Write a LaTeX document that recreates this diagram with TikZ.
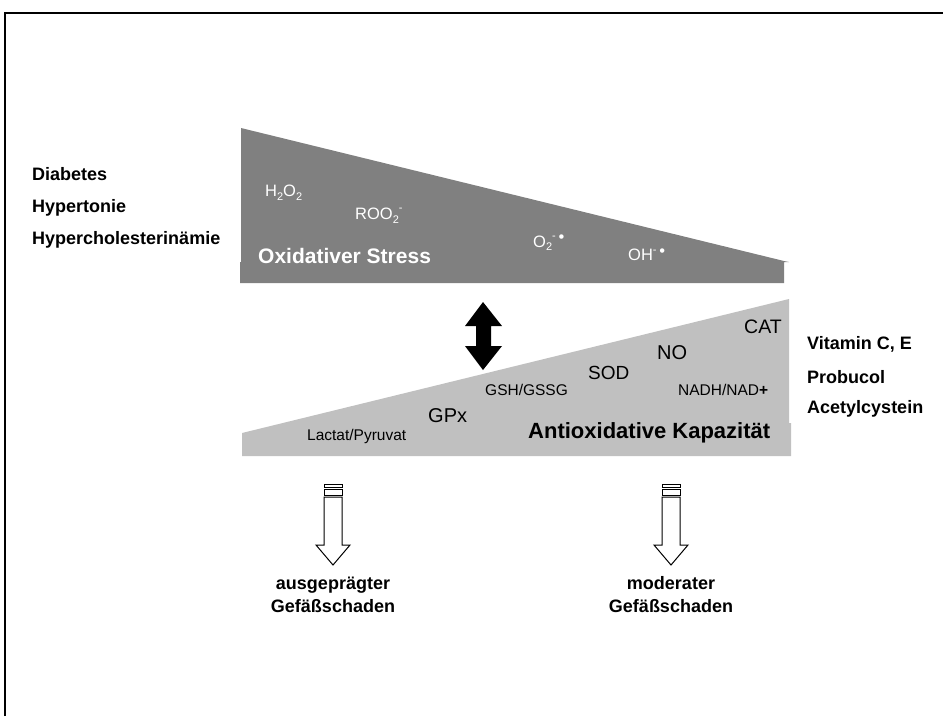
\documentclass[tikz,border=0pt]{standalone}
\usepackage{fontspec}
\setmainfont{Liberation Sans}
\definecolor{darkg}{HTML}{808080}
\definecolor{lightg}{HTML}{C0C0C0}
\newcommand{\mysub}[1]{\raisebox{-0.45ex}{\fontsize{11}{12}\selectfont #1}}
\newcommand{\mysup}[1]{\raisebox{0.9ex}{\fontsize{11}{12}\selectfont #1}}
\begin{document}
\begin{tikzpicture}[x=1pt,y=-1pt,
  sidelab/.style={anchor=west,inner sep=0pt,font=\bfseries\fontsize{18}{20}\selectfont},
  wlab/.style={anchor=west,inner sep=0pt,text=white,font=\fontsize{16.5}{18}\selectfont},
  blab/.style={anchor=west,inner sep=0pt,text=black},
  outcome/.style={align=center,inner sep=0pt,font=\bfseries\fontsize{18}{23}\selectfont},
  downarrow/.style={draw=black,fill=white,line width=1pt}]
\useasboundingbox (0,0) rectangle (943,716);
% frame
\draw[line width=1.6pt] (5,716) -- (5,13) -- (943,13);
% oxidative stress wedge
\fill[darkg] (241,128) -- (784,261) -- (789,262) -- (784,262) -- (784,283) -- (240,283) -- (240,262) -- (241,262) -- cycle;
% antioxidative wedge
\fill[lightg] (242,433) -- (789,299) -- (789,423) -- (791,423) -- (791,456) -- (242,456) -- cycle;
% double arrow
\fill[black] (483,302) -- (502,326) -- (491,326) -- (491,346) -- (502,346) -- (483,370) -- (465,346) -- (476,346) -- (476,326) -- (465,326) -- cycle;
% left labels
\node[sidelab] (diab) at (32,174) {Diabetes};
\node[sidelab] (hyper) at (32,208) {Hypertonie};
\node[sidelab] (chol) at (32,240) {Hypercholesterinämie};
% right labels
\node[sidelab] (vit) at (807,344) {Vitamin C, E};
\node[sidelab] (prob) at (807,377) {Probucol};
\node[sidelab] (acet) at (807,409) {Acetylcystein};
% white labels
\node[wlab] (h2o2) at (265,193) {H\mysub{2}O\mysub{2}};
\node[wlab] (roo) at (355,216) {ROO\mysub{2}\mysup{-}};
\node[wlab,font=\bfseries\fontsize{21}{24}\selectfont] (ox) at (258,256) {Oxidativer Stress};
\node[wlab] (o2) at (533,243) {O\mysub{2}\mysup{-}\,\raisebox{0.5ex}{•}};
\node[wlab] (oh) at (628,255) {OH\mysup{-}\,\raisebox{0.5ex}{•}};
% black labels
\node[blab,font=\fontsize{15.5}{18}\selectfont] (lac) at (307,436) {Lactat/Pyruvat};
\node[blab,font=\fontsize{20}{22}\selectfont] (gpx) at (428,416) {GPx};
\node[blab,font=\fontsize{15.5}{18}\selectfont] (gsh) at (485,390) {GSH/GSSG};
\node[blab,font=\fontsize{19}{22}\selectfont] (sod) at (588,373) {SOD};
\node[blab,font=\fontsize{20}{22}\selectfont] (no) at (657,353) {NO};
\node[blab,font=\fontsize{19.5}{22}\selectfont] (cat) at (744,327) {CAT};
\node[blab,font=\fontsize{15.5}{18}\selectfont] (nadh) at (678,390) {NADH/NAD\textbf{+}};
\node[blab,font=\bfseries\fontsize{22}{25}\selectfont] (antiox) at (528,433) {Antioxidative Kapazität};
% down arrows
\foreach \cx/\nm in {333/la,671/ra}{
  \draw[downarrow] (\cx-9,484) rectangle (\cx+9,487);
  \draw[downarrow] (\cx-9,489) rectangle (\cx+9,495);
  \draw[downarrow] (\cx-9,497) -- (\cx+9,497) -- (\cx+9,545) -- (\cx+17,545) -- (\cx,565) -- (\cx-17,545) -- (\cx-9,545) -- cycle;
}
% outcomes
\node[outcome] (out1) at (333,595) {ausgeprägter\\Gefäßschaden};
\node[outcome] (out2) at (671,595) {moderater\\Gefäßschaden};
\end{tikzpicture}
\end{document}
